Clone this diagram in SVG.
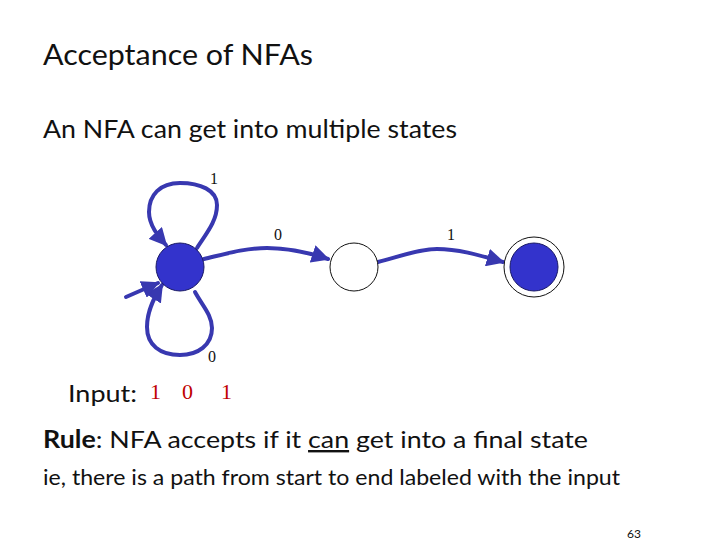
<svg xmlns="http://www.w3.org/2000/svg" width="720" height="540" viewBox="0 0 720 540">
<style>
.t{font-family:Lato,"Open Sans","Liberation Sans",sans-serif;fill:#111}
.lbl{font-family:"Liberation Serif","Times New Roman",serif;font-size:16px;fill:#111}
.inp{font-family:"Liberation Serif","Times New Roman",serif;font-size:22px;fill:#c00000}
.edge{fill:none;stroke:#3838b0;stroke-width:4;stroke-linecap:round;stroke-linejoin:round}
</style>
<defs>
<marker id="ah" viewBox="0 0 10 10" refX="9" refY="5" markerWidth="4.5" markerHeight="4.5" orient="auto" markerUnits="strokeWidth">
<path d="M0,0 L10,5 L0,10 z" fill="#3838b0"/>
</marker>
</defs>
<rect width="720" height="540" fill="#fff"/>
<text class="t" x="43" y="65" font-size="28" textLength="270" lengthAdjust="spacingAndGlyphs">Acceptance of NFAs</text>
<text class="t" x="43" y="138" font-size="25" textLength="414" lengthAdjust="spacingAndGlyphs">An NFA can get into multiple states</text>
<g id="connectors">
<path class="edge" d="M197,248 C205,235 217,222 217,205 C217,190 200,183 180,183 C160,183 149,195 149,212 C149,225 158,236 166,245" marker-end="url(#ah)"/>
<path class="edge" d="M195,292 C202,305 212,315 212,328 C212,345 198,355 180,355 C160,355 147,345 147,327 C147,310 155,296 162,285" marker-end="url(#ah)"/>
<path class="edge" d="M126,297 L158,283" marker-end="url(#ah)"/>
<path class="edge" d="M204,259 C225,254 245,248 267,248 C290,248 310,253 328,259" marker-end="url(#ah)"/>
<path class="edge" d="M378,262 C398,257 418,249 437,249 C460,249 482,256 503,262" marker-end="url(#ah)"/>
</g>
<g id="q0"><circle cx="180" cy="267" r="24" fill="#3333cc" stroke="#1a1a66" stroke-width="1"/></g>
<g id="q1"><circle cx="354" cy="267" r="24" fill="#fff" stroke="#111" stroke-width="1"/></g>
<g id="q2"><circle cx="534" cy="267" r="30" fill="#fff" stroke="#111" stroke-width="1"/><circle cx="534" cy="267" r="24" fill="#3333cc" stroke="#1a1a66" stroke-width="1"/></g>
<text class="lbl" x="210" y="184">1</text>
<text class="lbl" x="274" y="240">0</text>
<text class="lbl" x="447" y="240">1</text>
<text class="lbl" x="208" y="362">0</text>
<text class="t" x="68" y="402" font-size="24" textLength="69" lengthAdjust="spacingAndGlyphs">Input:</text>
<text class="inp" x="150" y="399">1</text>
<text class="inp" x="182" y="399">0</text>
<text class="inp" x="221" y="399">1</text>
<text class="t" x="43" y="448" font-size="24" textLength="545" lengthAdjust="spacingAndGlyphs"><tspan font-weight="bold">Rule</tspan>: NFA accepts if it <tspan text-decoration="underline">can</tspan> get into a final state</text>
<text class="t" x="43" y="485" font-size="22" textLength="577" lengthAdjust="spacingAndGlyphs">ie, there is a path from start to end labeled with the input</text>
<text class="t" x="627" y="538" font-size="12">63</text>
</svg>
